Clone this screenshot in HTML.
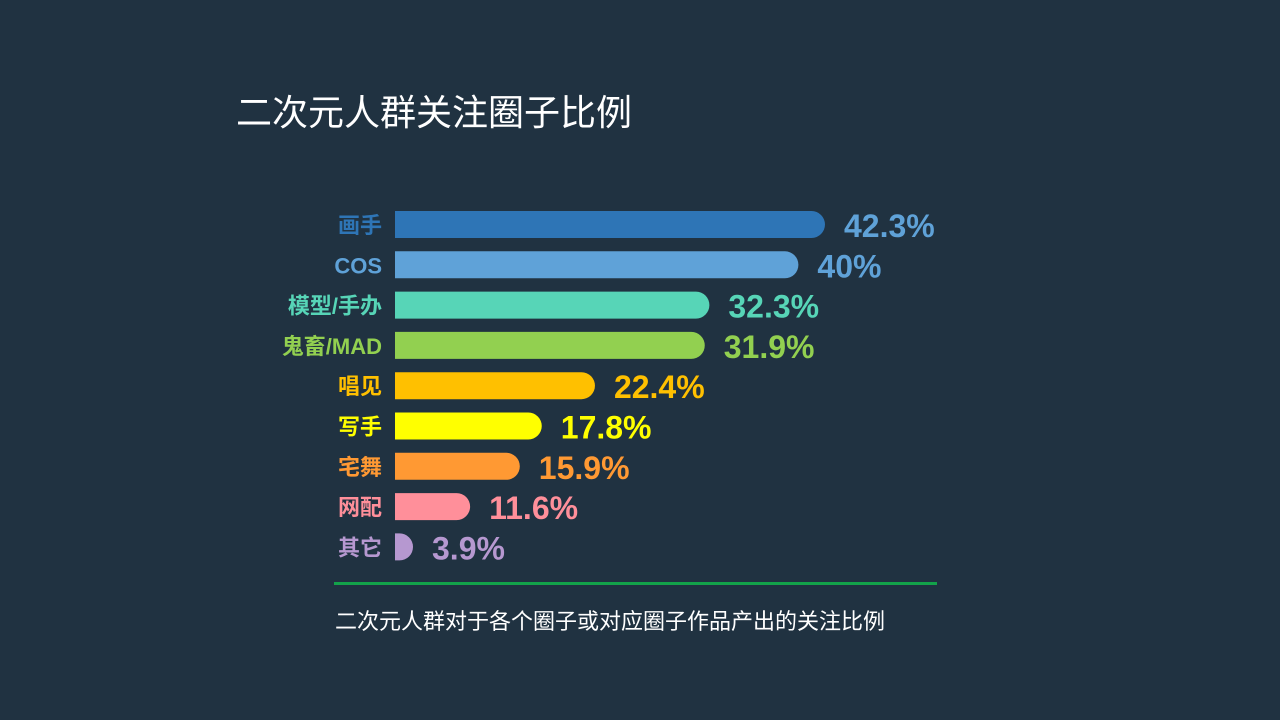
<!DOCTYPE html>
<html><head><meta charset="utf-8">
<style>
html,body{margin:0;padding:0;background:#203241;}
body{width:1280px;height:720px;position:relative;overflow:hidden;font-family:"Liberation Sans","Noto Sans CJK SC",sans-serif;}
.title{position:absolute;left:236px;top:84px;font-size:36px;color:#fff;}
.caption{position:absolute;left:335px;top:604px;font-size:22px;color:#fff;}
.rule{position:absolute;left:334px;top:582px;width:603px;height:3px;background:#13a24a;}
svg{position:absolute;left:0;top:0;}
</style></head><body>
<div class="title">二次元人群关注圈子比例</div>
<svg id="chart" width="1280" height="720"></svg>
<div class="rule"></div>
<div class="caption">二次元人群对于各个圈子或对应圈子作品产出的关注比例</div>
<script>
const categories=["画手","COS","模型/手办","鬼畜/MAD","唱见","写手","宅舞","网配","其它"];
const values=[42.3,40,32.3,31.9,22.4,17.8,15.9,11.6,3.9];
const valueLabels=["42.3%","40%","32.3%","31.9%","22.4%","17.8%","15.9%","11.6%","3.9%"];
const colors=["#2e75b6","#5fa2d8","#57d5b7","#92d050","#ffc000","#ffff00","#ff9933","#ff8f9a","#b698d0"];
const labelColors=["#2e75b6","#5fa2d8","#57d5b7","#92d050","#ffc000","#ffff00","#ff9933","#ff8f9a","#b698d0"];
const valueColors=["#5fa2d8","#5fa2d8","#57d5b7","#92d050","#ffc000","#ffff00","#ff9933","#ff8f9a","#b698d0"];
const NS="http://www.w3.org/2000/svg";
const svg=document.getElementById('chart');
const x0=395, barH=27, r=13.5;
function xScale(v){return 336+v*11.56;}
function yScale(i){return 211+i*40.3;}
categories.forEach((c,i)=>{
  const y=yScale(i);
  const xe=Math.max(xScale(values[i]),x0+18);
  const w=xe-x0;
  const rr=Math.min(r,w);
  const p=document.createElementNS(NS,'path');
  p.setAttribute('d',`M${x0},${y} H${xe-rr} A${rr},${r} 0 0 1 ${xe-rr},${y+barH} H${x0} Z`.replace(`A${rr},${r} 0 0 1 ${xe-rr},${y+barH}`,`A${rr},${r} 0 0 1 ${xe},${y+r} A${rr},${r} 0 0 1 ${xe-rr},${y+barH}`));
  p.setAttribute('fill',colors[i]);
  
  
  svg.appendChild(p);
  const t=document.createElementNS(NS,'text');
  t.setAttribute('x',382);t.setAttribute('y',y+22);
  t.setAttribute('text-anchor','end');
  t.setAttribute('font-size','22');t.setAttribute('font-weight','bold');
  t.setAttribute('fill',labelColors[i]);
  t.textContent=c;
  
  
  svg.appendChild(t);
  const v=document.createElementNS(NS,'text');
  v.setAttribute('x',xe+19);v.setAttribute('y',y+26);
  v.setAttribute('font-size','32');v.setAttribute('font-weight','bold');
  v.setAttribute('fill',valueColors[i]);
  v.textContent=valueLabels[i];
  
  
  svg.appendChild(v);
});
</script>
</body></html>
